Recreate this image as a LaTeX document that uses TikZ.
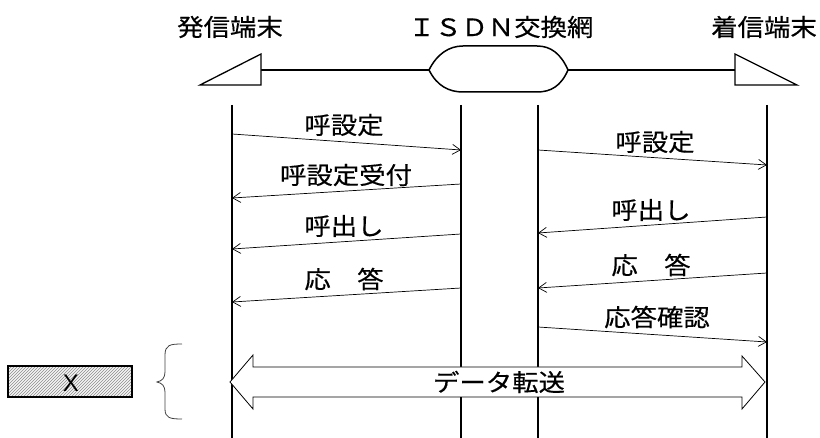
\documentclass[tikz,border=0pt]{standalone}
\usepackage{fontspec}
\newfontfamily\jp{Noto Sans CJK JP}[FakeStretch=1.1,FakeBold=0.4]
\newfontfamily\lsans{Liberation Sans}
\usetikzlibrary{arrows.meta,patterns}
\begin{document}
\begin{tikzpicture}[x=1pt,y=-1pt,
  lbl/.style={font=\jp\fontsize{24}{28}\selectfont,inner sep=0pt},
  lifeline/.style={line width=1.8pt},
  msg/.style={line width=0.7pt,-{Straight Barb[length=8pt,width=10pt,line width=0.7pt]}},
  term/.style={line width=1.3pt,fill=white},
  netline/.style={line width=1.5pt}]
\useasboundingbox (0,0) rectangle (820,438);
% header labels
\node[lbl] (hA) at (230,27) {発信端末};
\node[lbl] (hN) at (501,27) {ＩＳＤＮ交換網};
\node[lbl] (hB) at (764,27) {着信端末};
% network symbol
\coordinate (tA) at (261,70);
\coordinate (nL) at (429,70);
\coordinate (nR) at (568,70);
\coordinate (tB) at (735,70);
\draw[netline] (tA) -- (nL);
\draw[netline] (nR) -- (tB);
\draw[term] (200,85) -- (261,54) -- (261,85) -- cycle;
\draw[term] (797,85) -- (735,54) -- (735,85) -- cycle;
\draw[netline] (nL) .. controls (437,54) and (449,46) .. (463,46) -- (537,46)
  .. controls (551,46) and (561,54) .. (nR)
  .. controls (561,86) and (551,92) .. (537,92) -- (463,92)
  .. controls (449,92) and (437,86) .. (nL) -- cycle;
% lifelines
\coordinate (a0) at (232,105); \coordinate (a1) at (232,438);
\coordinate (b0) at (461,105); \coordinate (b1) at (461,438);
\coordinate (c0) at (538,105); \coordinate (c1) at (538,438);
\coordinate (d0) at (767,105); \coordinate (d1) at (767,438);
\draw[lifeline] (a0) -- (a1);
\draw[lifeline] (b0) -- (b1);
\draw[lifeline] (c0) -- (c1);
\draw[lifeline] (d0) -- (d1);
% left messages
\coordinate (m1s) at (232,134); \coordinate (m1e) at (461,150);
\coordinate (m2s) at (461,184); \coordinate (m2e) at (232,198);
\coordinate (m3s) at (461,234); \coordinate (m3e) at (232,249);
\coordinate (m4s) at (461,288); \coordinate (m4e) at (232,302);
\draw[msg] (m1s) -- (m1e);
\draw[msg] (m2s) -- (m2e);
\draw[msg] (m3s) -- (m3e);
\draw[msg] (m4s) -- (m4e);
\node[lbl] (l1) at (344,125) {呼設定};
\node[lbl] (l2) at (346,175) {呼設定受付};
\node[lbl] (l3) at (344,226) {呼出し};
\node[lbl] (l4) at (344,279) {応　答};
% right messages
\coordinate (r1s) at (538,150); \coordinate (r1e) at (767,165);
\coordinate (r2s) at (767,217); \coordinate (r2e) at (538,233);
\coordinate (r3s) at (767,273); \coordinate (r3e) at (538,288);
\coordinate (r4s) at (538,327); \coordinate (r4e) at (767,342);
\draw[msg] (r1s) -- (r1e);
\draw[msg] (r2s) -- (r2e);
\draw[msg] (r3s) -- (r3e);
\draw[msg] (r4s) -- (r4e);
\node[lbl] (q1) at (655,142) {呼設定};
\node[lbl] (q2) at (651,210) {呼出し};
\node[lbl] (q3) at (651,265) {応　答};
\node[lbl] (q4) at (657,317) {応答確認};
% data transfer double arrow
\draw[line width=0.8pt,fill=white] (230,382) -- (253,355) -- (253,367) -- (742,367) -- (742,356)
  -- (765,382) -- (742,409) -- (742,397) -- (253,397) -- (253,409) -- cycle;
\node[lbl] (dt) at (499,382) {データ転送};
% brace
\draw[line width=0.8pt,draw=black!75] (182,344) .. controls (170,344) and (165,345) .. (165,355)
  -- (165,372) .. controls (165,378) and (162,381) .. (157,382)
  .. controls (162,383) and (165,386) .. (165,392) -- (165,409)
  .. controls (165,418) and (170,419) .. (182,419);
% X box
\fill[gray!8] (8,366) rectangle (132,397);
\fill[pattern=north east lines,pattern color=black!45] (8,366) rectangle (132,397);
\draw[line width=1.6pt] (8,366) rectangle (132,397);
\node[font=\lsans\fontsize{24}{26}\selectfont,inner sep=0pt] (xl) at (71,383) {X};
\end{tikzpicture}
\end{document}
